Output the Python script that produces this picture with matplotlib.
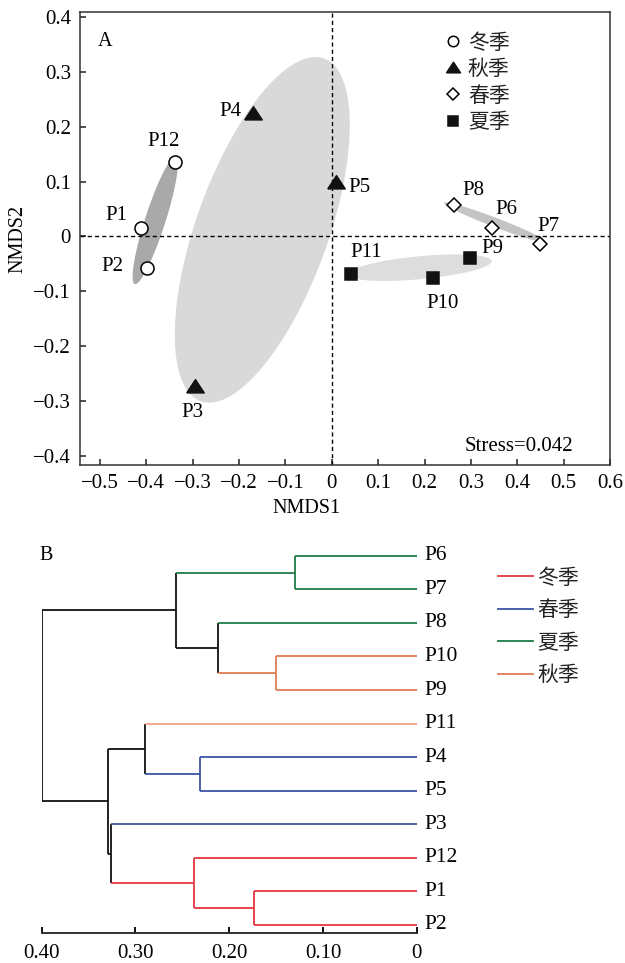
import matplotlib
matplotlib.use("Agg")
import matplotlib.pyplot as plt
import numpy as np
from matplotlib.lines import Line2D

plt.rcParams['font.family'] = ['Liberation Serif', 'Noto Sans CJK SC']
plt.rcParams['axes.unicode_minus'] = True

# ---------------- Panel A data (NMDS) ----------------
sites = ['P1', 'P2', 'P12', 'P3', 'P4', 'P5', 'P8', 'P6', 'P7', 'P11', 'P10', 'P9']
nmds1 = [-0.411, -0.398, -0.338, -0.296, -0.171, 0.009, 0.264, 0.346, 0.448, 0.041, 0.219, 0.297]
nmds2 = [0.015, -0.057, 0.136, -0.274, 0.223, 0.097, 0.057, 0.016, -0.013, -0.068, -0.075, -0.039]
season = ['冬季', '冬季', '冬季', '秋季', '秋季', '秋季', '春季', '春季', '春季', '夏季', '夏季', '夏季']
season_order = ['冬季', '秋季', '春季', '夏季']

# label positions (data coords) for each site name
label_x = [-0.465, -0.474, -0.364, -0.300, -0.218, 0.060, 0.306, 0.377, 0.468, 0.074, 0.238, 0.346]
label_y = [0.038, -0.055, 0.173, -0.320, 0.227, 0.089, 0.084, 0.049, 0.018, -0.030, -0.122, -0.022]

# group ellipses: centre, conjugate semi-diameters u, v (data units)
ell_cx = [-0.150, -0.381, 0.3525, 0.190]
ell_cy = [0.012, 0.029, 0.0255, -0.057]
ell_ux = [0.1145, 0.043, 0.1105, 0.155]
ell_uy = [0.315, 0.116, -0.0355, 0.012]
ell_vx = [0.150, 0.023, 0.0, 0.0]
ell_vy = [0.0, 0.0, 0.009, 0.021]
ell_colors = ['#d9d9d9', '#a9a9a9', '#c4c4c4', '#dddddd']

# ---------------- Panel B data (dendrogram) ----------------
leaf_order = ['P6', 'P7', 'P8', 'P10', 'P9', 'P11', 'P4', 'P5', 'P3', 'P12', 'P1', 'P2']
merge_a = ['P6', 'P10', 'P8', 'N1', 'P4', 'P11', 'P1', 'P12', 'P3', 'N6', 'N4']
merge_b = ['P7', 'P9', 'N2', 'N3', 'P5', 'N5', 'P2', 'N7', 'N8', 'N9', 'N10']
merge_h = [0.130, 0.150, 0.212, 0.257, 0.231, 0.290, 0.174, 0.238, 0.326, 0.329, 0.400]
merge_names = ['N1', 'N2', 'N3', 'N4', 'N5', 'N6', 'N7', 'N8', 'N9', 'N10', 'root']

RED, BLUE, GREEN, ORANGE, LORANGE, BLACK = '#e3393f', '#3a55a3', '#1f7b46', '#e07c56', '#eea283', '#111111'
node_color = {
    'P6': GREEN, 'P7': GREEN, 'P8': GREEN, 'P10': ORANGE, 'P9': ORANGE, 'P11': LORANGE,
    'P4': BLUE, 'P5': BLUE, 'P3': BLUE, 'P12': RED, 'P1': RED, 'P2': RED,
    'N1': GREEN, 'N2': ORANGE, 'N3': BLACK, 'N4': BLACK, 'N5': BLUE, 'N6': BLACK,
    'N7': RED, 'N8': RED, 'N9': BLACK, 'N10': BLACK, 'root': BLACK,
}
legend_b_labels = ['冬季', '春季', '夏季', '秋季']
legend_b_colors = [RED, BLUE, GREEN, ORANGE]

xticks_b = [0.40, 0.30, 0.20, 0.10, 0.0]
xticklabels_b = ['0.40', '0.30', '0.20', '0.10', '0']

# ---------------- Figure ----------------
W, H = 625, 963
fig = plt.figure(figsize=(W / 100, H / 100), dpi=100)

def fr(x0, y0, x1, y1):
    return [x0 / W, 1 - y1 / H, (x1 - x0) / W, (y1 - y0) / H]

# ----- Panel A -----
ax = fig.add_axes(fr(80, 12, 610, 465))
ax.set_xlim(-0.5432, 0.6)
ax.set_ylim(-0.4166, 0.4091)

t = np.linspace(0, 2 * np.pi, 300)
for cx, cy, ux, uy, vx, vy, c in zip(ell_cx, ell_cy, ell_ux, ell_uy, ell_vx, ell_vy, ell_colors):
    ex = cx + ux * np.cos(t) + vx * np.sin(t)
    ey = cy + uy * np.cos(t) + vy * np.sin(t)
    ax.fill(ex, ey, color=c, lw=0, zorder=1)

ax.axhline(0, color='black', lw=1.0, ls=(0, (3, 2.2)), zorder=2)
ax.axvline(0, color='black', lw=1.0, ls=(0, (3, 2.2)), zorder=2)

tri = [(-1, -0.62), (1, -0.62), (0, 0.9), (-1, -0.62)]
styles = {
    '冬季': dict(marker='o', ms=9.4, mfc='white', mec='black'),
    '秋季': dict(marker=tri, ms=12.5, mfc='#111111', mec='#111111'),
    '春季': dict(marker='D', ms=6.9, mfc='white', mec='black'),
    '夏季': dict(marker='s', ms=8.6, mfc='#111111', mec='#111111'),
}
legend_scale = {'冬季': 0.8, '秋季': 0.8, '春季': 0.95, '夏季': 0.8}
x_arr = np.array(nmds1)
y_arr = np.array(nmds2)
s_arr = np.array(season)
handles = []
for s in season_order:
    m = s_arr == s
    ax.plot(x_arr[m], y_arr[m], ls='none', mew=1.1, zorder=4, **styles[s])
    st = dict(styles[s])
    st['ms'] = st['ms'] * legend_scale[s]
    handles.append(Line2D([], [], ls='none', mew=1.1, **st))

for name, lx, ly in zip(sites, label_x, label_y):
    ax.text(lx, ly, name, fontsize=15, ha='center', va='center', zorder=5)

leg = ax.legend(handles, season_order, loc='upper left',
                bbox_to_anchor=(445 / W, 1 - 34 / H), bbox_transform=fig.transFigure,
                frameon=False, fontsize=15, handlelength=0.75, handletextpad=0.35,
                borderpad=0, borderaxespad=0, labelspacing=0.33)
for txt in leg.get_texts():
    txt.set_color('#222222')

ax.text(-0.489, 0.355, 'A', fontsize=14.5, ha='center', va='center')
ax.text(0.286, -0.382, 'Stress=0.042', fontsize=15, ha='left', va='center')

ax.set_xticks(np.round(np.arange(-0.5, 0.61, 0.1), 1))
ax.set_yticks(np.round(np.arange(-0.4, 0.41, 0.1), 1))
fmt = matplotlib.ticker.FuncFormatter(
    lambda v, p: '0' if abs(v) < 1e-9 else ('%.1f' % v).replace('-', '\u2212'))
ax.xaxis.set_major_formatter(fmt)
ax.yaxis.set_major_formatter(fmt)
ax.tick_params(direction='in', length=4.5, width=1.1, labelsize=15, pad=6.5, color='#222222')
for sp in ax.spines.values():
    sp.set_linewidth(1.1)
    sp.set_color('#333333')
ax.set_xlabel('NMDS1', fontsize=14.5)
ax.set_ylabel('NMDS2', fontsize=14.5)
ax.xaxis.set_label_coords(0.428, -0.095)
ax.xaxis.label.set_va('center')
ax.yaxis.set_label_coords(-0.117, 0.5)
ax.yaxis.label.set_va('center')

# ----- Panel B -----
bx = fig.add_axes(fr(41.7, 540, 416.7, 933.3))
n = len(leaf_order)
pos = {leaf: n - 1 - i for i, leaf in enumerate(leaf_order)}
hgt = {leaf: 0.0 for leaf in leaf_order}
for a, b, h, nm in zip(merge_a, merge_b, merge_h, merge_names):
    pos[nm] = (pos[a] + pos[b]) / 2
    hgt[nm] = h
    bx.plot([h, h], [pos[a], pos[b]], color=node_color[nm], lw=1.3, solid_capstyle='butt', zorder=2)
    for ch in (a, b):
        bx.plot([hgt[ch], h], [pos[ch], pos[ch]], color=node_color[ch], lw=1.3,
                solid_capstyle='butt', zorder=3 if ch in leaf_order else 2)

for leaf in leaf_order:
    bx.annotate(leaf, (0, pos[leaf]), xytext=(5.5, 0), textcoords='offset points',
                fontsize=15.5, ha='left', va='center', annotation_clip=False)

bx.set_xlim(0.40, 0.0)
bx.set_ylim(-0.248, 11.47)
bx.set_xticks(xticks_b)
bx.set_xticklabels(xticklabels_b)
bx.set_yticks([])
for side in ('top', 'right', 'left'):
    bx.spines[side].set_visible(False)
bx.spines['bottom'].set_linewidth(1.3)
bx.spines['bottom'].set_color('#222222')
bx.tick_params(axis='x', direction='in', length=4, width=1.3, labelsize=15, pad=8)

bx.text(46 / W, 1 - 555 / H, 'B', transform=fig.transFigure, fontsize=14.5, ha='center', va='center')

lh = [Line2D([], [], color=c, lw=1.3) for c in legend_b_colors]
legb = bx.legend(lh, legend_b_labels, loc='upper left',
                 bbox_to_anchor=(498 / W, 1 - 569 / H), bbox_transform=fig.transFigure,
                 frameon=False, fontsize=15, handlelength=1.68, handletextpad=0.2,
                 borderpad=0, borderaxespad=0, labelspacing=0.62)
for txt in legb.get_texts():
    txt.set_color('#222222')

fig.savefig('out.png', dpi=100)
